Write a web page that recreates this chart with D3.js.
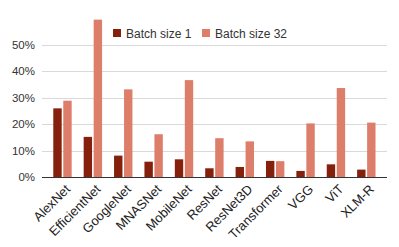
<!DOCTYPE html>
<html lang="en">
  <head>
    <meta charset="utf-8">
    <title>Batch size chart</title>
    <script src="https://d3js.org/d3.v7.min.js"></script>
    <style>
      html, body {
        padding: 0px;
        margin: 0px;
        background: #fff;
      }
      svg {
        font-family: "Liberation Sans", Arial, sans-serif;
        display: block;
      }
      .grid line {
        stroke: #d9d9d9;
        stroke-width: 1;
        shape-rendering: crispEdges;
      }
      .tick-label {
        font-size: 11.5px;
        fill: #333;
      }
      .x-label {
        font-size: 13px;
        fill: #222;
      }
      .legend text {
        font-size: 12px;
        fill: #333;
      }
    </style>
  </head>
  <body>
    <div id="chart"></div>
    <script>
      var models = ["AlexNet", "EfficientNet", "GoogleNet", "MNASNet", "MobileNet", "ResNet", "ResNet3D", "Transformer", "VGG", "ViT", "XLM-R"];
      var batch1 = [26.0, 15.2, 8.1, 5.8, 6.7, 3.3, 3.8, 6.1, 2.3, 4.8, 2.8];
      var batch32 = [28.9, 59.6, 33.2, 16.2, 36.7, 14.7, 13.5, 6.0, 20.3, 33.7, 20.6];
      var series = ["Batch size 1", "Batch size 32"];
      var yTicks = [0, 10, 20, 30, 40, 50];
      var colors = ["#85200c", "#dd7e6b"];

      var width = 399,
          height = 247;
      var left = 42, right = 387, bottom = 177;

      var svg = d3.select("#chart").append("svg")
        .attr("width", width)
        .attr("height", height);

      var x = d3.scaleBand()
        .domain(models)
        .range([47.3, 381.5])
        .paddingInner(0.395)
        .paddingOuter(0.197);

      var xs = d3.scaleBand()
        .domain(series)
        .range([0, x.bandwidth()])
        .paddingInner(0.16);

      var y = d3.scaleLinear()
        .domain([0, 50])
        .range([bottom, 45]);

      // gridlines
      svg.append("g")
        .attr("class", "grid")
        .selectAll("line")
        .data(yTicks.filter(function(d) { return d > 0; }))
        .enter().append("line")
        .attr("x1", left)
        .attr("x2", right)
        .attr("y1", function(d) { return Math.round(y(d)) + 0.5; })
        .attr("y2", function(d) { return Math.round(y(d)) + 0.5; });

      // y labels
      svg.append("g")
        .selectAll("text")
        .data(yTicks)
        .enter().append("text")
        .attr("class", "tick-label")
        .attr("x", 35)
        .attr("y", function(d) { return y(d) + 4; })
        .attr("text-anchor", "end")
        .text(function(d) { return d + "%"; });

      // bars
      var rows = models.map(function(m, i) {
        return {model: m, values: [batch1[i], batch32[i]]};
      });

      var groups = svg.append("g")
        .selectAll("g")
        .data(rows)
        .enter().append("g")
        .attr("transform", function(d) { return "translate(" + x(d.model) + ",0)"; });

      groups.selectAll("rect")
        .data(function(d) { return d.values.map(function(v, k) { return {s: series[k], v: v, k: k}; }); })
        .enter().append("rect")
        .attr("x", function(d) { return xs(d.s); })
        .attr("width", xs.bandwidth())
        .attr("y", function(d) { return y(d.v); })
        .attr("height", function(d) { return y(0) - y(d.v); })
        .attr("fill", function(d) { return colors[d.k]; });

      // baseline
      svg.append("line")
        .attr("x1", left)
        .attr("x2", right)
        .attr("y1", bottom + 0.5)
        .attr("y2", bottom + 0.5)
        .attr("stroke", "#333")
        .attr("stroke-width", 1);

      // x labels
      svg.append("g")
        .selectAll("text")
        .data(models)
        .enter().append("text")
        .attr("class", "x-label")
        .attr("text-anchor", "end")
        .attr("transform", function(d) {
          return "translate(" + (x(d) + x.bandwidth() / 2 + 8.5) + "," + (bottom + 13) + ") rotate(-45)";
        })
        .text(function(d) { return d; });

      // legend
      var legend = svg.append("g").attr("class", "legend");
      var legendX = [113, 202];
      series.forEach(function(s, k) {
        legend.append("rect")
          .attr("x", legendX[k])
          .attr("y", 29)
          .attr("width", 8)
          .attr("height", 8)
          .attr("fill", colors[k]);
        legend.append("text")
          .attr("x", legendX[k] + 13)
          .attr("y", 37.5)
          .text(s);
      });
    </script>
  </body>
</html>
